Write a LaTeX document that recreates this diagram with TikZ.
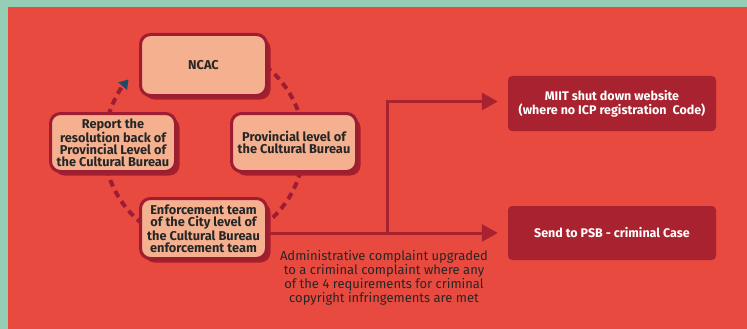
\documentclass[tikz,border=0pt]{standalone}
\usepackage{fontspec}
\setmainfont{Fira Sans}
\usetikzlibrary{arrows.meta,shadows,calc}
\definecolor{frame}{HTML}{96CDB5}
\definecolor{bgred}{HTML}{E94A3F}
\definecolor{peach}{HTML}{F5B08F}
\definecolor{boxedge}{HTML}{9E1D33}
\definecolor{shadowred}{HTML}{A3202D}
\definecolor{darkbox}{HTML}{A8222F}
\definecolor{linered}{HTML}{A8222F}
\definecolor{ink}{HTML}{262626}
\definecolor{arrownavy}{HTML}{1F4B66}
\begin{document}
\begin{tikzpicture}[x=1pt,y=-1pt,
  peachbox/.style={draw=boxedge, line width=3pt, fill=peach, rounded corners=10pt,
    drop shadow={shadow xshift=4pt, shadow yshift=-4pt, fill=shadowred, opacity=1},
    font=\fontsize{12.8}{12}\selectfont\bfseries, text=ink, align=center, inner sep=0pt},
  actionbox/.style={fill=darkbox, rounded corners=4pt, minimum width=208pt,
    font=\fontsize{12.5}{14}\selectfont\bfseries, text=white, align=center, inner sep=0pt},
  cycleline/.style={draw=boxedge, line width=4pt, dash pattern=on 7pt off 5pt},
  conn/.style={draw=linered, line width=3pt, -{Triangle[length=16pt,width=17pt]}, shorten >=10pt},
  note/.style={font=\fontsize{13}{12.5}\selectfont, text=ink, align=center, inner sep=0pt}]

% frame and background
\fill[frame] (0,0) rectangle (747,329);
\fill[bgred] (8,7) rectangle (747,329);
\useasboundingbox (0,0) rectangle (747,329);

% dashed cycle of authorities, drawn under the boxes
\coordinate (C) at (204,145);
\draw[cycleline] ([shift={(52:100pt)}]C) arc[start angle=52, end angle=15, radius=100pt];
\draw[cycleline] ([shift={(-15:100pt)}]C) arc[start angle=-15, end angle=-50, radius=100pt];
\draw[cycleline] ([shift={(-128:100pt)}]C) arc[start angle=-128, end angle=-165, radius=100pt];
\draw[cycleline, -{Triangle[length=9pt,width=11pt,color=arrownavy]}]
  ([shift={(163:100pt)}]C) arc[start angle=163, end angle=139, radius=100pt];

\node[peachbox, minimum width=126pt, minimum height=61pt] (ncac) at (203.5,65) {NCAC};
\node[peachbox, minimum width=125pt, minimum height=58pt] (report) at (113,142.5)
  {Report the\\resolution back of\\Provincial Level of\\the Cultural Bureau};
\node[peachbox, minimum width=125pt, minimum height=58pt] (prov) at (294,142.5)
  {Provincial level of\\the Cultural Bureau};
\node[peachbox, minimum width=126pt, minimum height=60pt] (enf) at (203.5,228.5)
  {Enforcement team\\of the City level of\\the Cultural Bureau\\enforcement team};

% outcomes
\node[actionbox, minimum height=55pt] (miit) at (612,103.5)
  {MIIT shut down website\\(where no ICP registration\ \ Code)};
\node[actionbox, minimum height=54pt] (psb) at (612,233)
  {Send to PSB - criminal Case};

% escalation connectors
\path (enf.east) ++(2,0) coordinate (enfout);
\coordinate (br) at (387,233);
\draw[conn] (enfout |- psb.west) -- (psb.west);
\draw[conn] (br) |- ([yshift=2pt]miit.west);

\node[note] (crit) at (384,278)
  {Administrative complaint upgraded\\to a criminal complaint where any\\of the 4 requirements for criminal\\copyright infringements are met};
\end{tikzpicture}
\end{document}
